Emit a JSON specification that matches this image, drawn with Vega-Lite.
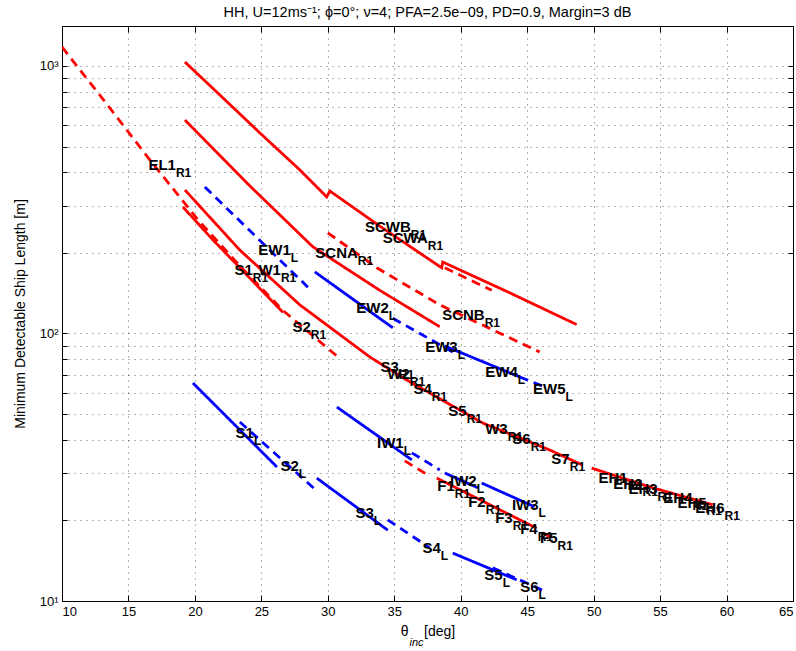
{
  "$schema": "https://vega.github.io/schema/vega-lite/v6.json",
  "width": 731,
  "height": 575,
  "autosize": "none",
  "padding": {"left": 62, "top": 26, "right": 3, "bottom": 50},
  "background": "white",
  "title": {
    "text": "HH, U=12ms⁻¹; ϕ=0°; ν=4; PFA=2.5e−09, PD=0.9, Margin=3 dB",
    "font": "Liberation Sans",
    "fontSize": 14.5,
    "fontWeight": "normal",
    "color": "#000",
    "anchor": "middle",
    "offset": 5
  },
  "config": {
    "font": "Liberation Sans",
    "view": {"stroke": "#000", "strokeWidth": 1},
    "axis": {
      "domainColor": "#000",
      "tickColor": "#000",
      "labelColor": "#000",
      "titleColor": "#000",
      "labelFont": "Liberation Sans",
      "titleFont": "Liberation Sans",
      "labelFontSize": 13,
      "titleFontSize": 14,
      "titleFontWeight": "normal"
    }
  },
  "datasets": {
    "curves": [
      {"id": "EL1", "sensor": "R1", "style": "dashed", "x": 10.0, "y": 1178},
      {"id": "EL1", "sensor": "R1", "style": "dashed", "x": 13.31, "y": 727},
      {"id": "EL1", "sensor": "R1", "style": "dashed", "x": 16.62, "y": 445},
      {"id": "EL1", "sensor": "R1", "style": "dashed", "x": 20.23, "y": 266},
      {"id": "EL1", "sensor": "R1", "style": "dashed", "x": 23.38, "y": 179},
      {"id": "EL1", "sensor": "R1", "style": "dashed", "x": 26.62, "y": 122},
      {"id": "EL1", "sensor": "R1", "style": "dashed", "x": 30.68, "y": 82.4},

      {"id": "SCW", "sensor": "R1", "style": "solid", "x": 19.25, "y": 1035},
      {"id": "SCW", "sensor": "R1", "style": "solid", "x": 21.88, "y": 779},
      {"id": "SCW", "sensor": "R1", "style": "solid", "x": 24.89, "y": 562},
      {"id": "SCW", "sensor": "R1", "style": "solid", "x": 27.89, "y": 409},
      {"id": "SCW", "sensor": "R1", "style": "solid", "x": 29.92, "y": 324},
      {"id": "SCW", "sensor": "R1", "style": "solid", "x": 30.15, "y": 341},
      {"id": "SCW", "sensor": "R1", "style": "solid", "x": 33.91, "y": 252},
      {"id": "SCW", "sensor": "R1", "style": "solid", "x": 38.57, "y": 176},
      {"id": "SCW", "sensor": "R1", "style": "solid", "x": 38.65, "y": 185},
      {"id": "SCW", "sensor": "R1", "style": "solid", "x": 43.68, "y": 142},
      {"id": "SCW", "sensor": "R1", "style": "solid", "x": 48.72, "y": 108},

      {"id": "SCWB-far", "sensor": "R1", "style": "dashed", "x": 38.8, "y": 176},
      {"id": "SCWB-far", "sensor": "R1", "style": "dashed", "x": 42.33, "y": 145},

      {"id": "SCN", "sensor": "R1", "style": "solid", "x": 19.25, "y": 628},
      {"id": "SCN", "sensor": "R1", "style": "solid", "x": 24.14, "y": 356},
      {"id": "SCN", "sensor": "R1", "style": "solid", "x": 28.87, "y": 211},
      {"id": "SCN", "sensor": "R1", "style": "solid", "x": 33.91, "y": 145},
      {"id": "SCN", "sensor": "R1", "style": "solid", "x": 38.42, "y": 106},

      {"id": "SCNB", "sensor": "R1", "style": "dashed", "x": 30.0, "y": 238},
      {"id": "SCNB", "sensor": "R1", "style": "dashed", "x": 33.68, "y": 176},
      {"id": "SCNB", "sensor": "R1", "style": "dashed", "x": 38.42, "y": 128},
      {"id": "SCNB", "sensor": "R1", "style": "dashed", "x": 45.94, "y": 85.3},

      {"id": "W-S", "sensor": "R1", "style": "solid", "x": 19.25, "y": 344},
      {"id": "W-S", "sensor": "R1", "style": "solid", "x": 23.38, "y": 205},
      {"id": "W-S", "sensor": "R1", "style": "solid", "x": 27.89, "y": 128},
      {"id": "W-S", "sensor": "R1", "style": "solid", "x": 33.16, "y": 81.7},
      {"id": "W-S", "sensor": "R1", "style": "solid", "x": 35.94, "y": 67.0},
      {"id": "W-S", "sensor": "R1", "style": "solid", "x": 41.65, "y": 46.3},
      {"id": "W-S", "sensor": "R1", "style": "solid", "x": 46.69, "y": 36.7},
      {"id": "W-S", "sensor": "R1", "style": "solid", "x": 49.17, "y": 32.2},

      {"id": "EH", "sensor": "R1", "style": "solid", "x": 49.85, "y": 31.4},
      {"id": "EH", "sensor": "R1", "style": "solid", "x": 54.21, "y": 26.7},
      {"id": "EH", "sensor": "R1", "style": "solid", "x": 58.95, "y": 22.9},

      {"id": "S1-R1", "sensor": "R1", "style": "solid", "x": 19.1, "y": 297},
      {"id": "S1-R1", "sensor": "R1", "style": "solid", "x": 21.35, "y": 224},
      {"id": "S1-R1", "sensor": "R1", "style": "solid", "x": 26.62, "y": 120},

      {"id": "F-near", "sensor": "R1", "style": "dashed", "x": 35.79, "y": 33.4},
      {"id": "F-near", "sensor": "R1", "style": "dashed", "x": 37.67, "y": 29.3},
      {"id": "F", "sensor": "R1", "style": "solid", "x": 38.2, "y": 28.8},
      {"id": "F", "sensor": "R1", "style": "solid", "x": 45.71, "y": 18.7},
      {"id": "F-far", "sensor": "R1", "style": "dashed", "x": 46.17, "y": 18.0},
      {"id": "F-far", "sensor": "R1", "style": "dashed", "x": 46.84, "y": 17.2},

      {"id": "EW1", "sensor": "L", "style": "dashed", "x": 20.75, "y": 353},
      {"id": "EW1", "sensor": "L", "style": "dashed", "x": 28.5, "y": 149},
      {"id": "EW2", "sensor": "L", "style": "solid", "x": 29.02, "y": 170},
      {"id": "EW2", "sensor": "L", "style": "solid", "x": 34.89, "y": 105},
      {"id": "EW2-far", "sensor": "L", "style": "dashed", "x": 34.89, "y": 114},
      {"id": "EW2-far", "sensor": "L", "style": "dashed", "x": 39.4, "y": 85.3},
      {"id": "EW3-4", "sensor": "L", "style": "solid", "x": 38.8, "y": 89.8},
      {"id": "EW3-4", "sensor": "L", "style": "solid", "x": 44.44, "y": 68.8},
      {"id": "EW5", "sensor": "L", "style": "dashed", "x": 44.44, "y": 68.8},
      {"id": "EW5", "sensor": "L", "style": "dashed", "x": 46.32, "y": 63.1},

      {"id": "IW1", "sensor": "L", "style": "solid", "x": 30.68, "y": 53.1},
      {"id": "IW1", "sensor": "L", "style": "solid", "x": 36.32, "y": 33.7},
      {"id": "IW1-far", "sensor": "L", "style": "dashed", "x": 36.32, "y": 35.8},
      {"id": "IW1-far", "sensor": "L", "style": "dashed", "x": 38.42, "y": 30.9},
      {"id": "IW2", "sensor": "L", "style": "solid", "x": 38.8, "y": 30.1},
      {"id": "IW2", "sensor": "L", "style": "solid", "x": 41.28, "y": 26.5},
      {"id": "IW3", "sensor": "L", "style": "solid", "x": 41.58, "y": 27.6},
      {"id": "IW3", "sensor": "L", "style": "solid", "x": 45.56, "y": 22.5},

      {"id": "S1-L", "sensor": "L", "style": "solid", "x": 19.85, "y": 65.3},
      {"id": "S1-L", "sensor": "L", "style": "solid", "x": 26.17, "y": 31.7},
      {"id": "S2-L", "sensor": "L", "style": "dashed", "x": 23.38, "y": 46.7},
      {"id": "S2-L", "sensor": "L", "style": "dashed", "x": 29.25, "y": 25.6},
      {"id": "S3-L", "sensor": "L", "style": "solid", "x": 29.17, "y": 28.8},
      {"id": "S3-L", "sensor": "L", "style": "solid", "x": 34.51, "y": 18.4},
      {"id": "S4-L", "sensor": "L", "style": "dashed", "x": 34.51, "y": 20.1},
      {"id": "S4-L", "sensor": "L", "style": "dashed", "x": 37.67, "y": 15.8},
      {"id": "S5-L", "sensor": "L", "style": "solid", "x": 39.4, "y": 15.1},
      {"id": "S5-L", "sensor": "L", "style": "solid", "x": 44.21, "y": 12.0},
      {"id": "S6-L", "sensor": "L", "style": "dashed", "x": 42.41, "y": 13.3},
      {"id": "S6-L", "sensor": "L", "style": "dashed", "x": 46.47, "y": 10.8}
    ],
    "labels": [
      {"t": "EL1", "s": "R1", "x": 18.57, "y": 426.5},
      {"t": "EW1", "s": "L", "x": 27.22, "y": 205.3},
      {"t": "SCNA", "s": "R1", "x": 32.26, "y": 199.9},
      {"t": "SCWB", "s": "R1", "x": 36.24, "y": 250.1},
      {"t": "SCWA", "s": "R1", "x": 37.52, "y": 227.5},
      {"t": "S1", "s": "R1", "x": 24.36, "y": 172.8},
      {"t": "W1", "s": "R1", "x": 26.47, "y": 172.8},
      {"t": "S2", "s": "R1", "x": 28.72, "y": 105.7},
      {"t": "EW2", "s": "L", "x": 34.59, "y": 124.6},
      {"t": "SCNB", "s": "R1", "x": 41.8, "y": 117.3},
      {"t": "EW3", "s": "L", "x": 39.77, "y": 89.0},
      {"t": "EW4", "s": "L", "x": 44.29, "y": 71.8},
      {"t": "EW5", "s": "L", "x": 47.89, "y": 62.0},
      {"t": "S3", "s": "R1", "x": 35.34, "y": 74.9},
      {"t": "W2", "s": "R1", "x": 36.17, "y": 70.6},
      {"t": "S4", "s": "R1", "x": 37.82, "y": 62.0},
      {"t": "S5", "s": "R1", "x": 40.45, "y": 51.3},
      {"t": "W3", "s": "R1", "x": 43.53, "y": 44.0},
      {"t": "S6", "s": "R1", "x": 45.26, "y": 40.3},
      {"t": "S7", "s": "R1", "x": 48.2, "y": 34.0},
      {"t": "EH1", "s": "R1", "x": 52.56, "y": 28.8},
      {"t": "EH2", "s": "R1", "x": 53.68, "y": 27.4},
      {"t": "EH3", "s": "R1", "x": 54.81, "y": 26.2},
      {"t": "EH4", "s": "R1", "x": 57.44, "y": 24.3},
      {"t": "EH5", "s": "R1", "x": 58.5, "y": 23.3},
      {"t": "EH6", "s": "R1", "x": 59.85, "y": 22.3},
      {"t": "IW1", "s": "L", "x": 35.71, "y": 39.0},
      {"t": "IW2", "s": "L", "x": 41.2, "y": 28.1},
      {"t": "IW3", "s": "L", "x": 45.86, "y": 22.9},
      {"t": "F1", "s": "R1", "x": 39.55, "y": 26.9},
      {"t": "F2", "s": "R1", "x": 41.88, "y": 23.4},
      {"t": "F3", "s": "R1", "x": 43.91, "y": 20.4},
      {"t": "F4", "s": "R1", "x": 45.79, "y": 18.6},
      {"t": "F5", "s": "R1", "x": 47.29, "y": 17.2},
      {"t": "S1", "s": "L", "x": 24.44, "y": 42.5},
      {"t": "S2", "s": "L", "x": 27.82, "y": 32.0},
      {"t": "S3", "s": "L", "x": 33.46, "y": 21.3},
      {"t": "S4", "s": "L", "x": 38.5, "y": 15.8},
      {"t": "S5", "s": "L", "x": 43.16, "y": 12.5},
      {"t": "S6", "s": "L", "x": 45.86, "y": 11.3}
    ]
  },
  "layer": [
    {
      "data": {"name": "curves"},
      "mark": {"type": "line", "strokeWidth": 2.8, "strokeCap": "butt", "clip": true},
      "encoding": {
        "x": {
          "field": "x",
          "type": "quantitative",
          "scale": {"domain": [10, 65], "nice": false, "zero": false},
          "axis": {
            "orient": "bottom",
            "values": [10, 15, 20, 25, 30, 35, 40, 45, 50, 55, 60, 65],
            "grid": true,
            "gridColor": "#000",
            "gridDash": [1, 5],
            "gridOpacity": 0.6,
            "tickSize": -6,
            "labelPadding": 10,
            "title": "θ\u00a0\u00a0\u00a0\u00a0[deg]",
            "titlePadding": 6
          }
        },
        "y": {
          "field": "y",
          "type": "quantitative",
          "scale": {"type": "log", "domain": [10, 1411], "nice": false},
          "axis": {
            "orient": "left",
            "values": [10, 20, 30, 40, 50, 60, 70, 80, 90, 100, 200, 300, 400, 500, 600, 700, 800, 900, 1000],
            "labelExpr": "datum.value == 10 ? '10¹' : datum.value == 100 ? '10²' : datum.value == 1000 ? '10³' : ''",
            "grid": true,
            "gridColor": "#000",
            "gridDash": [1, 5],
            "gridOpacity": 0.6,
            "tickSize": -5,
            "labelPadding": 9,
            "title": "Minimum Detectable Ship Length [m]",
            "titlePadding": 12
          }
        },
        "color": {
          "field": "sensor",
          "type": "nominal",
          "scale": {"domain": ["R1", "L"], "range": ["#ff0000", "#0000ff"]},
          "legend": null
        },
        "strokeDash": {
          "field": "style",
          "type": "nominal",
          "scale": {"domain": ["solid", "dashed"], "range": [[1, 0], [9, 6]]},
          "legend": null
        },
        "detail": {"field": "id"}
      }
    },
    {
      "data": {"name": "labels"},
      "mark": {"type": "text", "align": "right", "baseline": "middle", "font": "Liberation Sans", "fontWeight": "bold", "fontSize": 15, "color": "#000"},
      "encoding": {
        "x": {
          "field": "x",
          "type": "quantitative",
          "axis": {"orient": "top", "values": [10, 15, 20, 25, 30, 35, 40, 45, 50, 55, 60, 65], "labels": false, "title": null, "grid": false, "domain": false, "tickSize": -6}
        },
        "y": {
          "field": "y",
          "type": "quantitative",
          "axis": {"orient": "right", "values": [10, 20, 30, 40, 50, 60, 70, 80, 90, 100, 200, 300, 400, 500, 600, 700, 800, 900, 1000], "labels": false, "title": null, "grid": false, "domain": false, "tickSize": -5}
        },
        "text": {"field": "t"}
      }
    },
    {
      "data": {"name": "labels"},
      "mark": {"type": "text", "align": "left", "baseline": "middle", "dy": 8, "font": "Liberation Sans", "fontWeight": "bold", "fontSize": 12, "color": "#000"},
      "encoding": {
        "x": {
          "field": "x",
          "type": "quantitative",
          "axis": {
            "orient": "bottom",
            "labels": false,
            "ticks": false,
            "domain": false,
            "grid": false,
            "title": "inc",
            "titleFontStyle": "italic",
            "titleFontSize": 11,
            "titleAlign": "center",
            "titleBaseline": "middle",
            "titleX": 354,
            "titleY": 41
          }
        },
        "y": {"field": "y", "type": "quantitative", "axis": null},
        "text": {"field": "s"}
      }
    }
  ],
  "resolve": {"axis": {"x": "independent", "y": "independent"}}
}
